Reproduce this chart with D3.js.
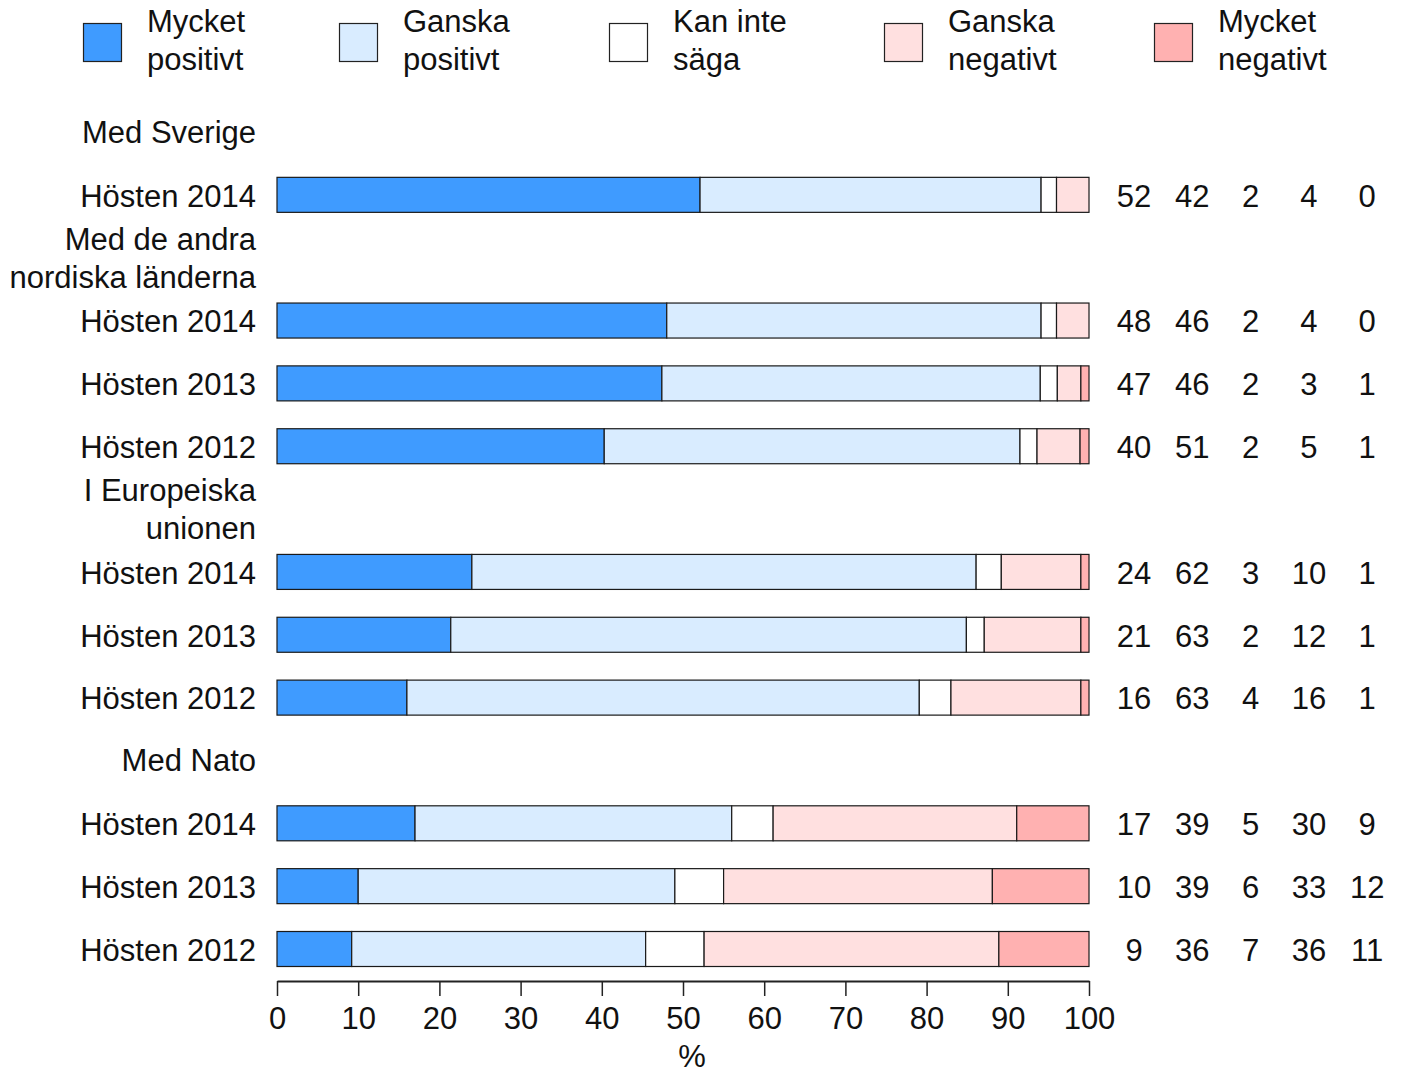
<!DOCTYPE html>
<html>
<head>
<meta charset="utf-8">
<script src="https://cdn.jsdelivr.net/npm/d3@7"></script>
<style>
  html, body { margin: 0; padding: 0; background: #fff; }
  svg { display: block; }
  text { font-family: "Liberation Sans", Arial, sans-serif; fill: #111; }
</style>
</head>
<body>
<svg id="chart" width="1402" height="1074"></svg>
<script>
// ---- Data ----
const seriesNames = ["Mycket positivt", "Ganska positivt", "Kan inte säga", "Ganska negativt", "Mycket negativt"];
const legendLines = [["Mycket", "positivt"], ["Ganska", "positivt"], ["Kan inte", "säga"], ["Ganska", "negativt"], ["Mycket", "negativt"]];
const seriesColors = ["#3f9bff", "#d9ecff", "#ffffff", "#ffe0e0", "#ffb1b1"];

const groupHeaders = [["Med Sverige"], ["Med de andra", "nordiska länderna"], ["I Europeiska", "unionen"], ["Med Nato"]];
const rowGroup = [0, 1, 1, 1, 2, 2, 2, 3, 3, 3];
const rowLabels = ["Hösten 2014", "Hösten 2014", "Hösten 2013", "Hösten 2012", "Hösten 2014", "Hösten 2013", "Hösten 2012", "Hösten 2014", "Hösten 2013", "Hösten 2012"];

// bar values (percent)
const mycketPositivt = [52.1, 48.0, 47.4, 40.3, 24.0, 21.4, 16.0, 17.0, 10.0, 9.2];
const ganskaPositivt = [42.0, 46.1, 46.6, 51.2, 62.1, 63.5, 63.1, 39.0, 39.0, 36.2];
const kanInteSaga    = [1.9, 1.9, 2.1, 2.1, 3.1, 2.2, 3.9, 5.1, 6.0, 7.2];
const ganskaNegativt = [4.0, 4.0, 2.9, 5.3, 9.8, 11.9, 16.0, 30.0, 33.1, 36.3];
const mycketNegativt = [0, 0, 1.0, 1.1, 1.0, 1.0, 1.0, 8.9, 11.9, 11.1];

// printed (rounded) figures
const labelsMycketPositivt = [52, 48, 47, 40, 24, 21, 16, 17, 10, 9];
const labelsGanskaPositivt = [42, 46, 46, 51, 62, 63, 63, 39, 39, 36];
const labelsKanInteSaga    = [2, 2, 2, 2, 3, 2, 4, 5, 6, 7];
const labelsGanskaNegativt = [4, 4, 3, 5, 10, 12, 16, 30, 33, 36];
const labelsMycketNegativt = [0, 0, 1, 1, 1, 1, 1, 9, 12, 11];

const xTicks = [0, 10, 20, 30, 40, 50, 60, 70, 80, 90, 100];
const xTitle = "%";

// ---- Build ----
const series = [mycketPositivt, ganskaPositivt, kanInteSaga, ganskaNegativt, mycketNegativt];
const labelSeries = [labelsMycketPositivt, labelsGanskaPositivt, labelsKanInteSaga, labelsGanskaNegativt, labelsMycketNegativt];

const slots = [];
groupHeaders.forEach((h, g) => {
  slots.push({ type: "header", lines: h });
  rowGroup.forEach((rg, i) => { if (rg === g) slots.push({ type: "row", index: i }); });
});

const svg = d3.select("#chart");
const FONT = 31;

const x = d3.scaleLinear().domain([0, 100]).range([277, 1089]);
const y = d3.scalePoint().domain(d3.range(slots.length)).range([132, 949]);
const barH = 35;

// legend
const legendX = [83, 339, 609, 884, 1154];
const leg = svg.append("g");
seriesNames.forEach((name, k) => {
  const g = leg.append("g").attr("transform", `translate(${legendX[k]},0)`);
  g.append("rect").attr("x", 0.5).attr("y", 23.5).attr("width", 38).attr("height", 38)
    .attr("fill", seriesColors[k]).attr("stroke", "#222").attr("stroke-width", 1.2);
  legendLines[k].forEach((ln, j) => {
    g.append("text").attr("x", 64).attr("y", 21 + j * 38).attr("dy", "0.35em")
      .attr("font-size", FONT).text(ln);
  });
});

// headers and row labels
slots.forEach((s, si) => {
  const cy = y(si);
  if (s.type === "header") {
    const n = s.lines.length;
    s.lines.forEach((ln, j) => {
      svg.append("text").attr("x", 256).attr("y", cy + (j - (n - 1) / 2) * 38)
        .attr("dy", "0.35em").attr("text-anchor", "end").attr("font-size", FONT).text(ln);
    });
  } else {
    const i = s.index;
    svg.append("text").attr("x", 256).attr("y", cy + 1).attr("dy", "0.35em")
      .attr("text-anchor", "end").attr("font-size", FONT).text(rowLabels[i]);
    let acc = 0;
    series.forEach((vals, k) => {
      const v = vals[i];
      if (v > 0) {
        svg.append("rect")
          .attr("x", x(acc)).attr("y", cy - barH / 2)
          .attr("width", x(acc + v) - x(acc)).attr("height", barH)
          .attr("fill", seriesColors[k]).attr("stroke", "#1a1a1a").attr("stroke-width", 1.2);
      }
      acc += v;
    });
    labelSeries.forEach((labs, k) => {
      svg.append("text").attr("x", 1134 + k * 58.3).attr("y", cy + 1).attr("dy", "0.35em")
        .attr("text-anchor", "middle").attr("font-size", FONT).text(labs[i]);
    });
  }
});

// axis
const axis = svg.append("g").attr("transform", "translate(0,981)")
  .call(d3.axisBottom(x).tickValues(xTicks).tickSize(15).tickSizeOuter(0).tickPadding(11));
axis.select(".domain").attr("stroke", "#222").attr("stroke-width", 2);
axis.selectAll(".tick line").attr("stroke", "#222").attr("stroke-width", 1.5);
axis.selectAll(".tick text").attr("font-size", FONT).attr("font-family", "Liberation Sans, Arial, sans-serif").attr("fill", "#111");

svg.append("text").attr("x", x(50) + 9).attr("y", 1056).attr("dy", "0.35em")
  .attr("text-anchor", "middle").attr("font-size", FONT).text(xTitle);
</script>
</body>
</html>
